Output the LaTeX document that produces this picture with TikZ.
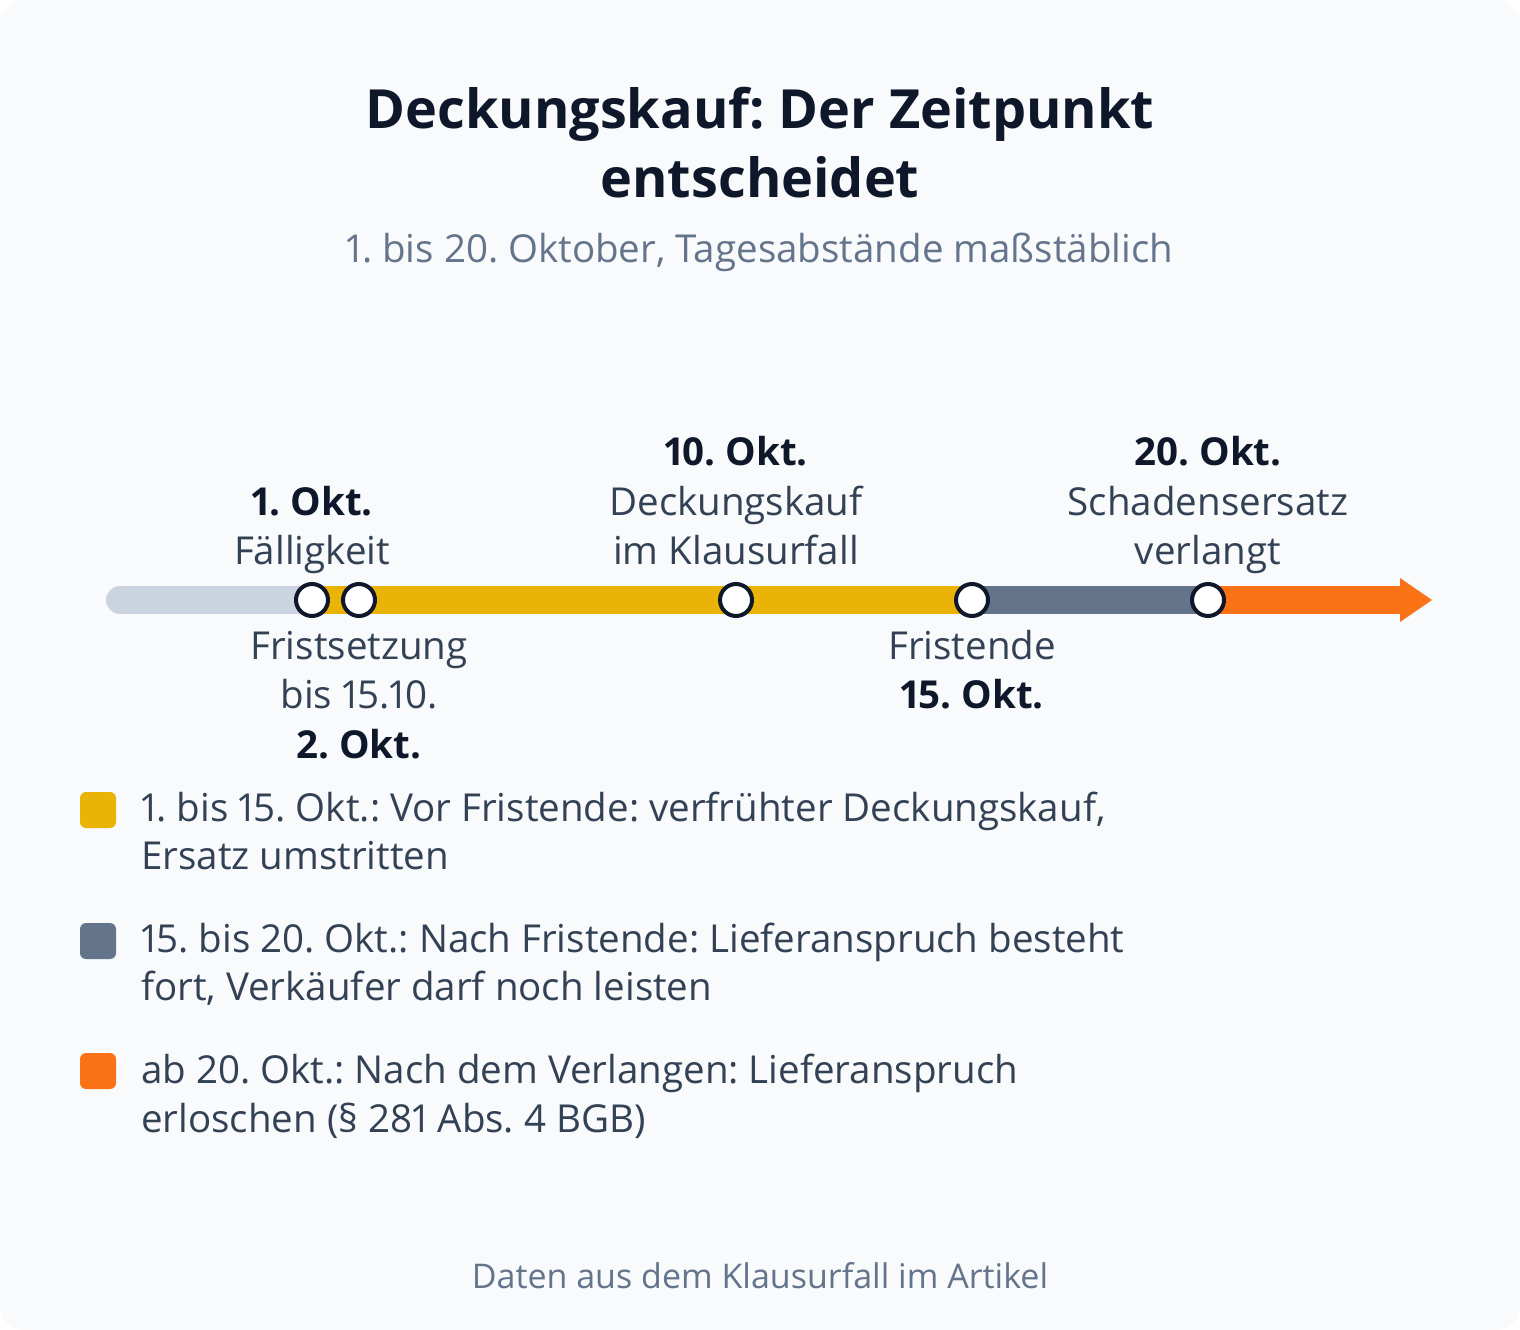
\documentclass[tikz,border=0pt]{standalone}
\usepackage{fontspec}
\setmainfont{Open Sans}[Numbers=Proportional]
\definecolor{cBg}{HTML}{F8FAFC}
\definecolor{cDark}{HTML}{0F172A}
\definecolor{cLabel}{HTML}{334155}
\definecolor{cMuted}{HTML}{64748B}
\definecolor{cGrey}{HTML}{CBD5E1}
\definecolor{cYellow}{HTML}{EAB308}
\definecolor{cSlate}{HTML}{64748B}
\definecolor{cOrange}{HTML}{F97316}
\begin{document}
\frenchspacing
\begin{tikzpicture}[x=1pt,y=-1pt,
  lbl/.style={anchor=base, inner sep=0pt, text=cLabel, font=\fontsize{38.5}{46}\selectfont},
  lblb/.style={anchor=base, inner sep=0pt, text=cDark, font=\fontsize{38.5}{46}\selectfont\bfseries},
  legtext/.style={anchor=base west, inner sep=0pt, text=cLabel, font=\fontsize{38.5}{46}\selectfont},
  legbox/.style={rounded corners=6pt, minimum size=36pt, inner sep=0pt},
  dot/.style={circle, draw=cDark, line width=4pt, fill=white, minimum size=32pt, inner sep=0pt},
  seg/.style={line width=28pt}
]
\useasboundingbox (0,0) rectangle (1520,1330);
\fill[white] (0,0) rectangle (1520,1330);
\fill[cBg, rounded corners=24pt] (0,0) rectangle (1520,1330);

% title
\node[anchor=base, inner sep=0pt, text=cDark, font=\fontsize{54}{69}\selectfont\bfseries] (t1) at (760,128) {Deckungskauf: Der Zeitpunkt};
\node[anchor=base, inner sep=0pt, text=cDark, font=\fontsize{54}{69}\selectfont\bfseries] (t2) at (760,197) {entscheidet};
\node[anchor=base, inner sep=0pt, text=cMuted, font=\fontsize{38.5}{40}\selectfont] (sub) at (760,262) {1. bis 20. Oktober, Tagesabstände maßstäblich};

% timeline coordinates
\coordinate (start) at (120,600);
\coordinate (d1) at (312,600);
\coordinate (d2) at (359,600);
\coordinate (d10) at (736,600);
\coordinate (d15) at (972,600);
\coordinate (d20) at (1208,600);
\coordinate (abase) at (1400,600);
\coordinate (tip) at (1432,600);

\draw[seg, cGrey, line cap=round] (start) -- (d1);
\draw[seg, cYellow] (d1) -- (d15);
\draw[seg, cSlate] (d15) -- (d20);
\draw[seg, cOrange] (d20) -- (abase);
\fill[cOrange] ([yshift=-22pt]abase) -- (tip) -- ([yshift=22pt]abase) -- cycle;

\node[dot] (n1) at (d1) {};
\node[dot] (n2) at (d2) {};
\node[dot] (n10) at (d10) {};
\node[dot] (n15) at (d15) {};
\node[dot] (n20) at (d20) {};

% labels above
\node[lblb] (l1a) at (312,515) {1. Okt.};
\node[lbl] (l1b) at (312,564) {Fälligkeit};
\node[lblb] (l10a) at (736,465) {10. Okt.};
\node[lbl] (l10b) at (736,515) {Deckungskauf};
\node[lbl] (l10c) at (736,564) {im Klausurfall};
\node[lblb] (l20a) at (1208,465) {20. Okt.};
\node[lbl] (l20b) at (1208,515) {Schadensersatz};
\node[lbl] (l20c) at (1208,564) {verlangt};

% labels below
\node[lbl] (l2a) at (359,659) {Fristsetzung};
\node[lbl] (l2b) at (359,708) {bis 15.10.};
\node[lblb] (l2c) at (359,758) {2. Okt.};
\node[lbl] (l15a) at (972,659) {Fristende};
\node[lblb] (l15b) at (972,708) {15. Okt.};

% legend
\node[legbox, fill=cYellow] (k1) at (98,810) {};
\node[legtext] (k1a) at (141,821) {1. bis 15. Okt.: Vor Fristende: verfrühter Deckungskauf,};
\node[legtext] (k1b) at (141,869) {Ersatz umstritten};
\node[legbox, fill=cSlate] (k2) at (98,941) {};
\node[legtext] (k2a) at (141,952) {15. bis 20. Okt.: Nach Fristende: Lieferanspruch besteht};
\node[legtext] (k2b) at (141,1000) {fort, Verkäufer darf noch leisten};
\node[legbox, fill=cOrange] (k3) at (98,1071) {};
\node[legtext] (k3a) at (141,1083) {ab 20. Okt.: Nach dem Verlangen: Lieferanspruch};
\node[legtext] (k3b) at (141,1132) {erloschen (§ 281 Abs. 4 BGB)};

% footer
\node[anchor=base, inner sep=0pt, text=cMuted, font=\fontsize{34}{36}\selectfont] (foot) at (760,1288) {Daten aus dem Klausurfall im Artikel};
\end{tikzpicture}
\end{document}
